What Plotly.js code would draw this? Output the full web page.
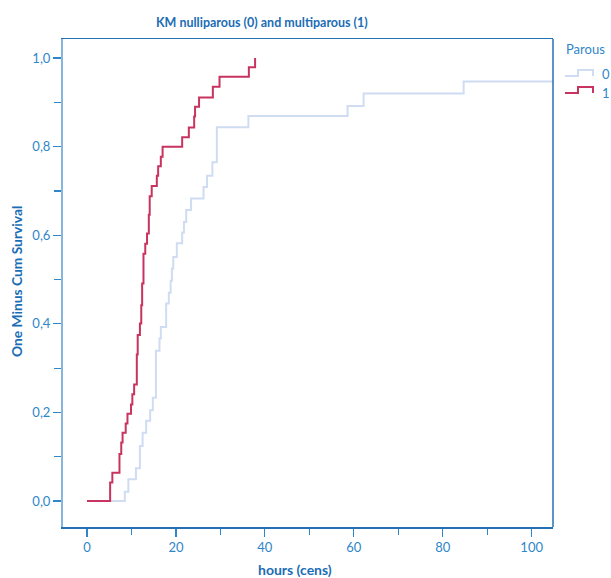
<!DOCTYPE html>
<html>
<head>
<meta charset="utf-8">
<script src="https://cdn.plot.ly/plotly-3.0.1.min.js"></script>
<style>html,body{margin:0;padding:0;background:#fff;}#chart{width:611px;height:578px;}</style>
</head>
<body>
<div id="chart"></div>
<script>
// Parous = 0 (nulliparous)
var hours0 = [0, 8.5, 9.3, 11.0, 11.9, 12.5, 13.3, 14.2, 14.8, 15.5, 16.3, 16.6, 17.8, 18.4, 18.8, 19.1, 19.4, 20.2, 21.4, 21.8, 22.3, 23.4, 26.2, 27.0, 28.2, 29.2, 36.3, 58.6, 62.2, 84.7, 108];
var surv0  = [0, 0.021, 0.049, 0.074, 0.124, 0.154, 0.181, 0.205, 0.233, 0.339, 0.367, 0.393, 0.446, 0.470, 0.497, 0.525, 0.551, 0.582, 0.606, 0.630, 0.657, 0.683, 0.709, 0.734, 0.765, 0.844, 0.869, 0.892, 0.920, 0.947, 0.947];
// Parous = 1 (multiparous)
var hours1 = [0, 5.2, 5.7, 7.3, 7.7, 8.0, 8.7, 9.1, 9.9, 10.2, 10.6, 11.2, 11.4, 11.9, 12.2, 12.4, 12.7, 13.1, 13.5, 13.9, 14.1, 14.55, 15.7, 16.0, 16.6, 17.0, 21.4, 22.9, 24.1, 24.3, 25.2, 28.3, 29.8, 36.4, 37.8];
var surv1  = [0, 0.042, 0.064, 0.106, 0.132, 0.154, 0.175, 0.197, 0.218, 0.241, 0.263, 0.331, 0.375, 0.401, 0.442, 0.491, 0.558, 0.581, 0.604, 0.646, 0.688, 0.711, 0.734, 0.756, 0.777, 0.800, 0.821, 0.843, 0.868, 0.890, 0.911, 0.935, 0.958, 0.979, 1.0];
var groupLabels = ['0', '1'];
var xTickVals = [0, 20, 40, 60, 80, 100];
var yTickVals = [0, 0.2, 0.4, 0.6, 0.8, 1.0];

var C_BLUE = '#cfdcf2', C_RED = '#c8335f';
var C_TEXT = '#1a6db4', C_TICK = '#2f86c9', C_FRAME = '#2470b4', C_LEFT = '#86b6de';
var FONT = 'Lato, "Open Sans", sans-serif';

function px(x){ return (x - 63) / 490; }
function py(y){ return (527 - y) / 488; }

var traces = [
  {x: hours0, y: surv0, mode: 'lines', line: {shape: 'hv', color: C_BLUE, width: 2}, name: groupLabels[0], showlegend: false, hoverinfo: 'skip'},
  {x: hours1, y: surv1, mode: 'lines', line: {shape: 'hv', color: C_RED, width: 2}, name: groupLabels[1], showlegend: false, hoverinfo: 'skip'}
];

function stepIcon(x0, yLow, yHigh, color){
  return {type: 'path', xref: 'paper', yref: 'paper',
    path: 'M' + px(x0) + ',' + py(yLow) + ' L' + px(x0 + 13) + ',' + py(yLow) + ' L' + px(x0 + 13) + ',' + py(yHigh) + ' L' + px(x0 + 28) + ',' + py(yHigh) + ' L' + px(x0 + 28) + ',' + py(yLow),
    line: {color: color, width: 2}};
}

var layout = {
  width: 611, height: 578,
  margin: {l: 63, r: 58, t: 39, b: 51, pad: 0},
  paper_bgcolor: '#fff', plot_bgcolor: '#fff',
  separators: ',.',
  showlegend: false,
  xaxis: {range: [-5.4, 104.8], tickvals: xTickVals, ticks: 'outside', ticklen: 8, tickwidth: 1.2, tickcolor: C_TICK,
    minor: {dtick: 10, tick0: 0, ticks: 'outside', ticklen: 6, tickwidth: 1.2, tickcolor: C_TICK},
    showgrid: false, zeroline: false, showline: true, mirror: true, linecolor: C_FRAME, linewidth: 1.5,
    tickfont: {family: FONT, size: 13, color: C_TICK}},
  yaxis: {range: [-0.0587, 1.043], tickvals: yTickVals, tickformat: '.1f', ticks: 'outside', ticklen: 8, tickwidth: 1.2, tickcolor: C_TICK,
    minor: {dtick: 0.1, tick0: 0, ticks: 'outside', ticklen: 7, tickwidth: 1.2, tickcolor: C_TICK},
    showgrid: false, zeroline: false, showline: true, linecolor: C_LEFT, linewidth: 2,
    tickfont: {family: FONT, size: 13, color: C_TICK}},
  shapes: [
    {type: 'line', xref: 'paper', yref: 'paper', x0: 1, x1: 1, y0: 0, y1: 1, line: {color: C_FRAME, width: 1.5}},
    stepIcon(565, 76, 70, C_BLUE),
    stepIcon(565, 93, 87, C_RED)
  ],
  annotations: [
    {text: '<b>KM nulliparous (0) and multiparous (1)</b>', xref: 'paper', yref: 'paper', x: px(262), y: py(23), xanchor: 'center', yanchor: 'middle', showarrow: false, font: {family: FONT, size: 12.5, color: C_TEXT}},
    {text: '<b>hours (cens)</b>', xref: 'paper', yref: 'paper', x: px(295), y: py(569), xanchor: 'center', yanchor: 'middle', showarrow: false, font: {family: FONT, size: 14, color: C_TEXT}},
    {text: '<b>One Minus Cum Survival</b>', xref: 'paper', yref: 'paper', x: px(16), y: py(282), xanchor: 'center', yanchor: 'middle', textangle: -90, showarrow: false, font: {family: FONT, size: 13.8, color: C_TEXT}},
    {text: 'Parous', xref: 'paper', yref: 'paper', x: px(564), y: py(49), xanchor: 'left', yanchor: 'middle', showarrow: false, font: {family: FONT, size: 13, color: C_TICK}},
    {text: groupLabels[0], xref: 'paper', yref: 'paper', x: px(600), y: py(74), xanchor: 'left', yanchor: 'middle', showarrow: false, font: {family: FONT, size: 13, color: C_TICK}},
    {text: groupLabels[1], xref: 'paper', yref: 'paper', x: px(600), y: py(93), xanchor: 'left', yanchor: 'middle', showarrow: false, font: {family: FONT, size: 13, color: C_TICK}}
  ]
};

Plotly.newPlot('chart', traces, layout, {displayModeBar: false, staticPlot: true});
</script>
</body>
</html>
